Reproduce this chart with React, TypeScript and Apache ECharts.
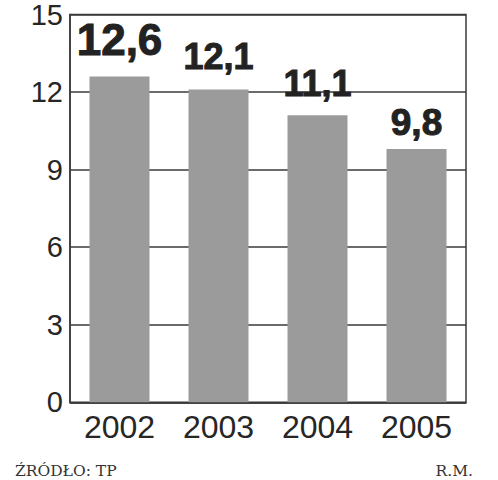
import React, { useEffect, useRef } from "react";
import * as echarts from "echarts";

const categories = ["2002", "2003", "2004", "2005"];
const values = [12.6, 12.1, 11.1, 9.8];
const yTicks = [0, 3, 6, 9, 12, 15];
const sourceText = "ŹRÓDŁO: TP";
const authorText = "R.M.";

// label styling (per bar), kept apart from data
const labelFontSizes = [44, 36, 36, 37];
const labelDistances = [15, 15, 14, 8];

export default function App() {
  const ref = useRef<HTMLDivElement>(null);
  useEffect(() => {
    if (!ref.current) return;
    const chart = echarts.init(ref.current, null, { renderer: "svg" });
    const lineColor = "#3a3a3a";
    chart.setOption({
      animation: false,
      backgroundColor: "#ffffff",
      grid: {
        left: 70,
        right: 32,
        top: 11.3,
        bottom: 77.7,
        show: true,
        borderColor: lineColor,
        borderWidth: 1.5,
        containLabel: false,
      },
      xAxis: {
        type: "category",
        data: categories,
        axisLine: { show: true, lineStyle: { color: lineColor, width: 1.5 } },
        axisTick: { show: false },
        axisLabel: {
          color: "#262626",
          fontFamily: "Liberation Sans",
          fontSize: 32,
          margin: 9,
        },
      },
      yAxis: {
        type: "value",
        min: yTicks[0],
        max: yTicks[yTicks.length - 1],
        interval: yTicks[1] - yTicks[0],
        axisLine: { show: true, lineStyle: { color: lineColor, width: 1.5 } },
        axisTick: { show: false },
        splitLine: { show: true, lineStyle: { color: lineColor, width: 1.5 } },
        axisLabel: {
          color: "#262626",
          fontFamily: "Liberation Sans",
          fontSize: 29,
          margin: 7,
          padding: [0, 0, 7, 0],
        },
      },
      series: [
        {
          type: "bar",
          data: values.map((v, i) => ({
            value: v,
            label: {
              fontSize: labelFontSizes[i],
              distance: labelDistances[i],
            },
          })),
          barWidth: 60,
          itemStyle: { color: "#9b9b9b" },
          label: {
            show: true,
            position: "top",
            color: "#222",
            fontFamily: "Liberation Sans",
            fontWeight: "bold",
            textBorderColor: "#222",
            textBorderWidth: 1,
            formatter: (p: any) => p.value.toFixed(1).replace(".", ","),
          },
          z: 3,
        },
      ],
      graphic: [
        {
          type: "text",
          left: 15,
          top: 463,
          style: {
            text: sourceText,
            font: "15.5px 'DejaVu Serif'",
            fill: "#333",
          },
        },
        {
          type: "text",
          right: 25,
          top: 463,
          style: {
            text: authorText,
            font: "15.5px 'DejaVu Serif'",
            fill: "#333",
          },
        },
      ],
    });
    return () => chart.dispose();
  }, []);
  return (
    <div
      ref={ref}
      style={{ position: "absolute", left: 0, top: 0, width: 498, height: 480 }}
    />
  );
}
